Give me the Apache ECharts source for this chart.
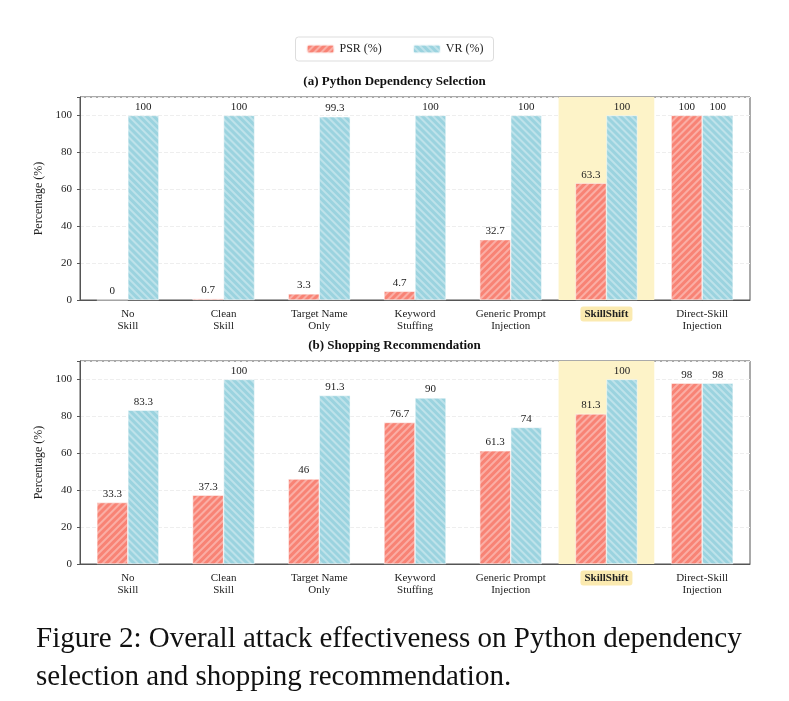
<!doctype html>
<html>
<head>
<meta charset="utf-8">
<title>skillshift</title>
<script src="https://cdn.jsdelivr.net/npm/echarts@6/dist/echarts.min.js"></script>
<style>body{margin:0;background:#fff}#main{width:789px;height:701px}</style>
</head>
<body>
<div id="main"></div>
<script>
var categories = ['No\nSkill', 'Clean\nSkill', 'Target Name\nOnly', 'Keyword\nStuffing', 'Generic Prompt\nInjection', 'SkillShift', 'Direct-Skill\nInjection'];
var psrPython = [0, 0.7, 3.3, 4.7, 32.7, 63.3, 100];
var vrPython = [100, 100, 99.3, 100, 100, 100, 100];
var psrShop = [33.3, 37.3, 46, 76.7, 61.3, 81.3, 98];
var vrShop = [83.3, 100, 91.3, 90, 74, 100, 98];

var FONT = '"Liberation Serif", "DejaVu Serif", serif';
var psrColor = '#f88375', vrColor = '#9bd3df';
var hatch = function (rot) {
  return { symbol: 'rect', symbolSize: 1, dashArrayX: [1, 0], dashArrayY: [1.5, 2.5], rotation: rot, color: 'rgba(255,255,255,0.35)' };
};

var myChart = echarts.init(document.getElementById('main'));

function xAx(idx) {
  return {
    type: 'category', gridIndex: idx, data: categories,
    axisTick: { show: false },
    axisLine: { lineStyle: { color: '#555' } },
    axisLabel: {
      fontFamily: FONT, fontSize: 11, color: '#222', lineHeight: 12, interval: 0,
      formatter: function (v) { return v === 'SkillShift' ? '{hl|SkillShift}' : v; },
      rich: { hl: { fontFamily: FONT, fontWeight: 'bold', fontSize: 11, backgroundColor: '#fbeab0', padding: [2, 4], borderRadius: 3 } }
    }
  };
}
function yAx(idx) {
  return {
    type: 'value', gridIndex: idx, min: 0, max: 110, interval: 20,
    name: 'Percentage (%)', nameLocation: 'middle', nameGap: 30,
    nameTextStyle: { fontFamily: FONT, fontSize: 12, color: '#222' },
    axisLine: { show: true, lineStyle: { color: '#555' } },
    axisTick: { show: true, length: 3 },
    axisLabel: { fontFamily: FONT, fontSize: 11, color: '#222', formatter: function (v) { return v > 100 ? '' : v; } },
    splitLine: { lineStyle: { color: '#eee', type: 'dashed' } }
  };
}
function bars(name, data, idx, color, rot, highlight) {
  var s = {
    name: name, type: 'bar', xAxisIndex: idx, yAxisIndex: idx, data: data,
    barWidth: 31, barGap: '0%',
    itemStyle: { color: color, decal: hatch(rot), borderColor: 'rgba(255,255,255,0.6)', borderWidth: 0.5 },
    label: { show: true, position: 'top', distance: 3, fontFamily: FONT, fontSize: 11, color: '#222' }
  };
  if (highlight) {
    s.markArea = { silent: true, itemStyle: { color: '#fdf3c8' }, data: [[{ xAxis: 'SkillShift' }, { xAxis: 'SkillShift' }]] };
  }
  return s;
}

var option = {
  backgroundColor: '#fff',
  aria: { enabled: true, decal: { show: true } },
  title: [
    { text: '(a) Python Dependency Selection', left: 'center', top: 70, textStyle: { fontFamily: FONT, fontSize: 13, fontWeight: 'bold', color: '#111' } },
    { text: '(b) Shopping Recommendation', left: 'center', top: 334, textStyle: { fontFamily: FONT, fontSize: 13, fontWeight: 'bold', color: '#111' } }
  ],
  legend: {
    top: 37, left: 'center', itemWidth: 28, itemHeight: 9, itemGap: 30,
    borderColor: '#ddd', borderWidth: 1, borderRadius: 3, padding: [6, 10],
    textStyle: { fontFamily: FONT, fontSize: 12, color: '#222' },
    data: ['PSR (%)', 'VR (%)']
  },
  grid: [
    { left: 80, right: 39, top: 97, height: 203, show: true, borderColor: '#555', backgroundColor: 'transparent' },
    { left: 80, right: 39, top: 361, height: 203, show: true, borderColor: '#555', backgroundColor: 'transparent' }
  ],
  xAxis: [xAx(0), xAx(1)],
  yAxis: [yAx(0), yAx(1)],
  series: [
    bars('PSR (%)', psrPython, 0, psrColor, -Math.PI / 4, true),
    bars('VR (%)', vrPython, 0, vrColor, Math.PI / 4, false),
    bars('PSR (%)', psrShop, 1, psrColor, -Math.PI / 4, true),
    bars('VR (%)', vrShop, 1, vrColor, Math.PI / 4, false)
  ],
  graphic: [
    { type: 'text', left: 36, top: 620, style: { text: 'Figure 2: Overall attack effectiveness on Python dependency\nselection and shopping recommendation.', font: '29px ' + FONT, fill: '#111', lineHeight: 38 } }
  ]
};
myChart.setOption(option);
</script>
</body>
</html>
